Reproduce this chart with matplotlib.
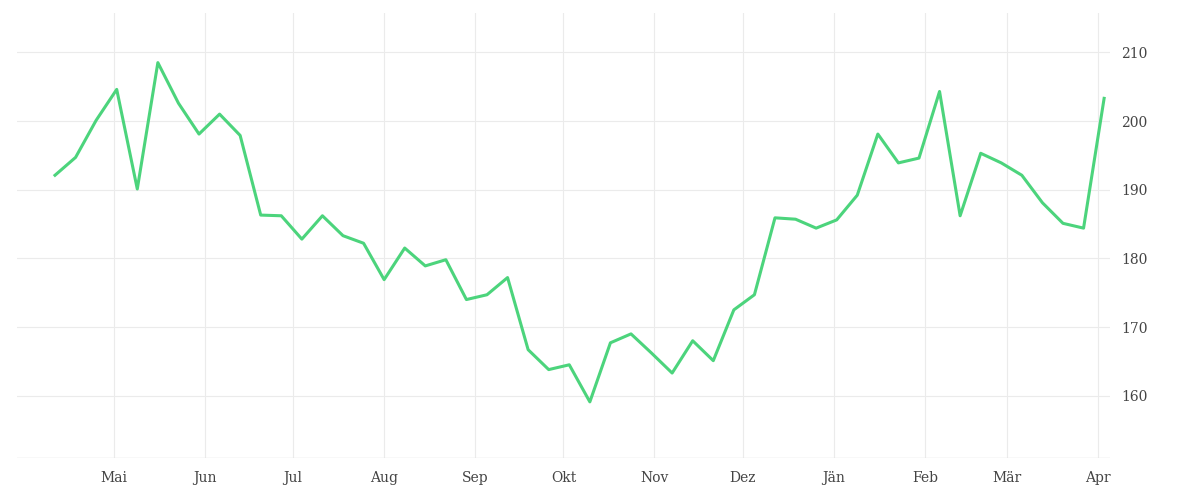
import matplotlib
matplotlib.use("Agg")
import matplotlib.pyplot as plt
import matplotlib.dates as mdates
import numpy as np
import pandas as pd

dates = pd.date_range("2022-04-11", periods=52, freq="7D")
values = [192.1,194.7,200.1,204.6,190.1,208.5,202.6,198.1,201.0,197.9,186.3,186.2,182.8,186.2,183.3,182.2,
          176.9,181.5,178.9,179.8,174.0,174.7,177.2,166.7,163.8,164.5,159.1,167.7,169.0,166.2,163.3,168.0,
          165.1,172.5,174.7,185.9,185.7,184.4,185.6,189.2,198.1,193.9,194.6,204.3,186.2,195.3,193.9,192.1,
          188.1,185.1,184.4,203.3]
month_labels = ["Mai","Jun","Jul","Aug","Sep","Okt","Nov","Dez","Jän","Feb","Mär","Apr"]
month_ticks = pd.date_range("2022-05-01", periods=12, freq="MS")
yticks = [160,170,180,190,200,210]

plt.rcParams['font.family'] = ['DejaVu Serif']
fig = plt.figure(figsize=(12,5), dpi=100)
ax = fig.add_axes([0.014, 0.085, 0.911, 0.89])
ax.plot(dates, values, color="#4cd47c", lw=2.2)
ax.set_xlim(pd.Timestamp("2022-03-29"), pd.Timestamp("2023-04-05"))
ax.set_ylim(151.0, 215.8)
ax.set_xticks(month_ticks)
ax.set_xticklabels(month_labels)
ax.set_yticks(yticks)
ax.yaxis.tick_right()
ax.grid(True, color="#ebebeb", lw=0.8)
for s in ax.spines.values():
    s.set_visible(False)
ax.axhline(151.0, color="#e0e0e0", lw=1)
ax.tick_params(axis='both', length=0, labelsize=10, colors="#444444")
ax.tick_params(axis='x', pad=10)
ax.tick_params(axis='y', pad=8)
fig.savefig("out.png")
